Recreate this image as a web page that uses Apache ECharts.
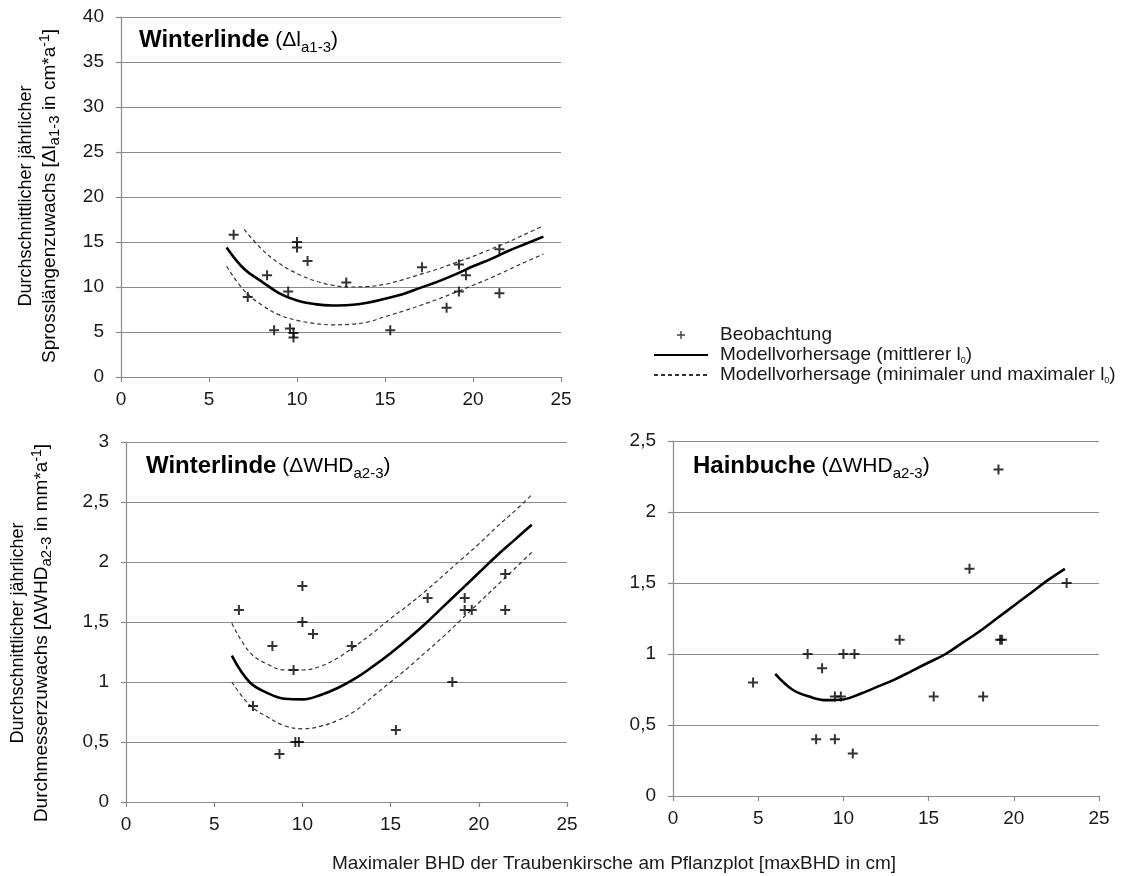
<!DOCTYPE html>
<html>
<head>
<meta charset="utf-8">
<script src="https://cdn.jsdelivr.net/npm/echarts@6/dist/echarts.min.js"></script>
<style>
  html, body { margin: 0; padding: 0; background: #ffffff; }
  #chart { width: 1142px; height: 876px; }
</style>
</head>
<body>
<div id="chart"></div>
<script>
// ---- Observations: [maxBHD in cm, increment] ----
const lindeShootObs = [
  [6.4, 15.8], [7.2, 8.9], [8.3, 11.3], [8.7, 5.2], [9.5, 9.5], [9.6, 5.4],
  [9.8, 4.9], [9.8, 4.4], [10.0, 15.0], [10.0, 14.4], [10.6, 12.9], [12.8, 10.5],
  [15.3, 5.2], [17.1, 12.2], [18.5, 7.7], [19.2, 12.5], [19.2, 9.5], [19.6, 11.3],
  [21.5, 14.2], [21.5, 9.3]
];
const lindeDiamObs = [
  [6.4, 1.6], [7.2, 0.8], [8.3, 1.3], [8.7, 0.4], [9.5, 1.1], [9.6, 0.5],
  [9.8, 0.5], [10.0, 1.8], [10.0, 1.5], [10.6, 1.4], [12.8, 1.3], [15.3, 0.6],
  [17.1, 1.7], [18.5, 1.0], [19.2, 1.7], [19.2, 1.6], [19.6, 1.6], [21.5, 1.9],
  [21.5, 1.6]
];
const hainbucheDiamObs = [
  [4.7, 0.8], [7.9, 1.0], [8.4, 0.4], [8.75, 0.9], [9.5, 0.4], [9.5, 0.7],
  [9.85, 0.7], [10.0, 1.0], [10.55, 0.3], [10.65, 1.0], [13.3, 1.1], [15.3, 0.7],
  [17.4, 1.6], [18.2, 0.7], [19.1, 2.3], [19.2, 1.1], [19.3, 1.1], [23.1, 1.5]
];

// ---- Model predictions, read at whole-cm steps of maxBHD ----
const shootX      = [6, 7, 8, 9, 10, 11, 12, 13, 14, 15, 16, 17, 18, 19, 20, 21, 22, 23, 24];
const shootMean   = [14.4, 12.0, 10.6, 9.3, 8.5, 8.1, 7.95, 8.0, 8.25, 8.7, 9.2, 9.9, 10.6, 11.4, 12.3, 13.1, 14.0, 14.8, 15.6];
const shootLower  = [12.3, 9.6, 8.0, 6.9, 6.3, 5.95, 5.8, 5.85, 6.1, 6.7, 7.3, 7.95, 8.65, 9.4, 10.2, 11.0, 11.9, 12.8, 13.65];
const shootUpperX = [7, 8, 9, 10, 11, 12, 13, 14, 15, 16, 17, 18, 19, 20, 21, 22, 23, 24];
const shootUpper  = [16.4, 14.2, 12.6, 11.5, 10.7, 10.2, 10.0, 10.05, 10.3, 10.8, 11.4, 12.0, 12.7, 13.4, 14.2, 15.0, 15.9, 16.8];

const diamX          = [6, 7, 8, 9, 10, 11, 12, 13, 14, 15, 16, 17, 18, 19, 20, 21, 22, 23];
const lindeDiamMean  = [1.22, 1.0, 0.91, 0.86, 0.855, 0.89, 0.95, 1.03, 1.13, 1.24, 1.36, 1.49, 1.63, 1.77, 1.91, 2.05, 2.18, 2.31];
const lindeDiamUpper = [1.49, 1.25, 1.15, 1.10, 1.10, 1.13, 1.2, 1.3, 1.41, 1.53, 1.64, 1.76, 1.89, 2.02, 2.15, 2.29, 2.42, 2.56];
const lindeDiamLower = [1.0, 0.81, 0.71, 0.635, 0.61, 0.63, 0.68, 0.76, 0.88, 1.0, 1.12, 1.25, 1.38, 1.52, 1.66, 1.8, 1.94, 2.08];
const hainDiamMean   = [0.86, 0.75, 0.7, 0.675, 0.68, 0.72, 0.77, 0.82, 0.88, 0.94, 1.0, 1.08, 1.16, 1.25, 1.34, 1.43, 1.52, 1.6];

// ---- Axis tick settings ----
const xTicks = { min: 0, max: 25, interval: 5 };
const yShootTicks = { min: 0, max: 40, interval: 5 };
const yLindeDiamTicks = { min: 0, max: 3, interval: 0.5 };
const yHainDiamTicks = { min: 0, max: 2.5, interval: 0.5 };

// ---- Labels ----
const NAME_OBS = 'Beobachtung';
const NAME_MEAN = 'Modellvorhersage (mittlerer l0)';
const NAME_RANGE = 'Modellvorhersage (minimaler und maximaler l0)';
const X_TITLE = 'Maximaler BHD der Traubenkirsche am Pflanzplot [maxBHD in cm]';

const FONT = '"Liberation Sans", Arial, Helvetica, sans-serif';
const AXIS_COLOR = '#8a8a8a';
const TEXT_COLOR = '#1a1a1a';
const PLUS = 'path://M5,0L5,10M0,5L10,5';

const pairs = (xs, ys) => xs.map((x, i) => [x, ys[i]]);
const comma = v => String(v).replace('.', ',');

function xAxis(gridIndex) {
  return Object.assign({
    type: 'value', gridIndex,
    axisLine: { show: true, onZero: false, lineStyle: { color: AXIS_COLOR, width: 1.2 } },
    axisTick: { show: true, length: 5, lineStyle: { color: AXIS_COLOR, width: 1.2 } },
    axisLabel: { margin: 13, fontSize: 19, color: TEXT_COLOR, fontFamily: FONT },
    splitLine: { show: false }
  }, xTicks);
}
function yAxis(gridIndex, ticks) {
  return Object.assign({
    type: 'value', gridIndex,
    axisLine: { show: true, lineStyle: { color: AXIS_COLOR, width: 1.2 } },
    axisTick: { show: true, length: 5, lineStyle: { color: AXIS_COLOR, width: 1.2 } },
    axisLabel: { margin: 17, fontSize: 19, color: TEXT_COLOR, fontFamily: FONT, formatter: comma },
    splitLine: { show: true, lineStyle: { color: AXIS_COLOR, width: 1.2 } }
  }, ticks);
}
function obsSeries(idx, data) {
  return {
    name: NAME_OBS, type: 'scatter', xAxisIndex: idx, yAxisIndex: idx, data,
    symbol: PLUS, symbolSize: 10, z: 5,
    itemStyle: { color: 'transparent', borderColor: '#000', borderWidth: 2 }
  };
}
function meanSeries(idx, data) {
  return {
    name: NAME_MEAN, type: 'line', xAxisIndex: idx, yAxisIndex: idx, data,
    symbol: 'none', smooth: 0.4, z: 3,
    itemStyle: { color: '#000' },
    lineStyle: { color: '#000', width: 2.6, type: 'solid' }
  };
}
function rangeSeries(idx, data) {
  return {
    name: NAME_RANGE, type: 'line', xAxisIndex: idx, yAxisIndex: idx, data,
    symbol: 'none', smooth: 0.4, z: 3,
    itemStyle: { color: '#333' },
    lineStyle: { color: '#333', width: 1.2, type: [4, 3] }
  };
}

// Rich-text styles for titles with sub-/superscripts
const titleRich = {
  b: { fontSize: 24, fontWeight: 'bold', fontFamily: FONT, color: '#000', lineHeight: 30, verticalAlign: 'middle' },
  n: { fontSize: 21, fontFamily: FONT, color: '#000', lineHeight: 30, verticalAlign: 'middle' },
  s: { fontSize: 15, fontFamily: FONT, color: '#000', lineHeight: 14, verticalAlign: 'bottom' }
};
const yTitleRich = {
  n: { fontSize: 18, fontFamily: FONT, color: TEXT_COLOR, lineHeight: 24, verticalAlign: 'middle' },
  m: { fontSize: 19, fontFamily: FONT, color: TEXT_COLOR, lineHeight: 24, verticalAlign: 'middle' },
  s: { fontSize: 15, fontFamily: FONT, color: TEXT_COLOR, lineHeight: 13, verticalAlign: 'bottom' },
  p: { fontSize: 14, fontFamily: FONT, color: TEXT_COLOR, lineHeight: 13, verticalAlign: 'top' }
};

function panelTitle(x, y, bold, symbol, sub) {
  return {
    type: 'text', x, y, z: 10,
    style: {
      text: '{b|' + bold + '} {n|(' + symbol + '}{s|' + sub + '}{n|)}',
      rich: titleRich, fontSize: 21, fontFamily: FONT,
      align: 'left', verticalAlign: 'middle'
    }
  };
}
function yTitle(x, y, line1, head, sub, tail) {
  return {
    type: 'text', x, y, rotation: Math.PI / 2, z: 10,
    style: {
      text: '{n|' + line1 + '}\n{m|' + head + '}{s|' + sub + '}{m|' + tail + '}{p|-1}{m|]}',
      rich: yTitleRich, fontSize: 18, fontFamily: FONT,
      align: 'center', verticalAlign: 'middle'
    }
  };
}

const hiddenMarker = { color: 'transparent', borderColor: 'transparent', borderWidth: 0 };

const option = {
  animation: false,
  backgroundColor: '#ffffff',
  grid: [
    { left: 121, top: 17, width: 440, height: 360 },
    { left: 126, top: 442, width: 441, height: 360 },
    { left: 673, top: 441, width: 426, height: 355 }
  ],
  xAxis: [xAxis(0), xAxis(1), xAxis(2)],
  yAxis: [yAxis(0, yShootTicks), yAxis(1, yLindeDiamTicks), yAxis(2, yHainDiamTicks)],
  legend: {
    orient: 'vertical', left: 648, top: 320,
    itemWidth: 54, itemHeight: 8, itemGap: 0,
    selectedMode: false,
    data: [
      { name: NAME_OBS, icon: PLUS, itemStyle: { color: 'transparent', borderColor: '#111', borderWidth: 1.4 } },
      { name: NAME_MEAN, itemStyle: hiddenMarker },
      { name: NAME_RANGE, itemStyle: hiddenMarker }
    ],
    formatter: n => n.replace(/l0\)$/, 'l{z|0})'),
    textStyle: {
      fontSize: 19, fontFamily: FONT, color: TEXT_COLOR, lineHeight: 20, padding: [0, 0, 0, 7],
      rich: { z: { fontSize: 9, fontFamily: FONT, color: TEXT_COLOR, lineHeight: 14, verticalAlign: 'bottom' } }
    }
  },
  graphic: [
    panelTitle(139, 40, 'Winterlinde', 'Δl', 'a1-3'),
    panelTitle(146, 466, 'Winterlinde', 'ΔWHD', 'a2-3'),
    panelTitle(693, 466, 'Hainbuche', 'ΔWHD', 'a2-3'),
    yTitle(38, 196, 'Durchschnittlicher jährlicher', 'Sprosslängenzuwachs [Δl', 'a1-3', ' in cm*a'),
    yTitle(30, 633, 'Durchschnittlicher jährlicher', 'Durchmesserzuwachs [ΔWHD', 'a2-3', ' in mm*a'),
    {
      type: 'text', x: 614, y: 864, z: 10,
      style: { text: X_TITLE, fontSize: 19, fontFamily: FONT, fill: TEXT_COLOR, align: 'center', verticalAlign: 'middle' }
    }
  ],
  series: [
    meanSeries(0, pairs(shootX, shootMean)),
    rangeSeries(0, pairs(shootUpperX, shootUpper)),
    rangeSeries(0, pairs(shootX, shootLower)),
    obsSeries(0, lindeShootObs),
    meanSeries(1, pairs(diamX, lindeDiamMean)),
    rangeSeries(1, pairs(diamX, lindeDiamUpper)),
    rangeSeries(1, pairs(diamX, lindeDiamLower)),
    obsSeries(1, lindeDiamObs),
    meanSeries(2, pairs(diamX, hainDiamMean)),
    obsSeries(2, hainbucheDiamObs)
  ]
};

const chart = echarts.init(document.getElementById('chart'), null, { renderer: 'canvas' });
chart.setOption(option);
</script>
</body>
</html>
